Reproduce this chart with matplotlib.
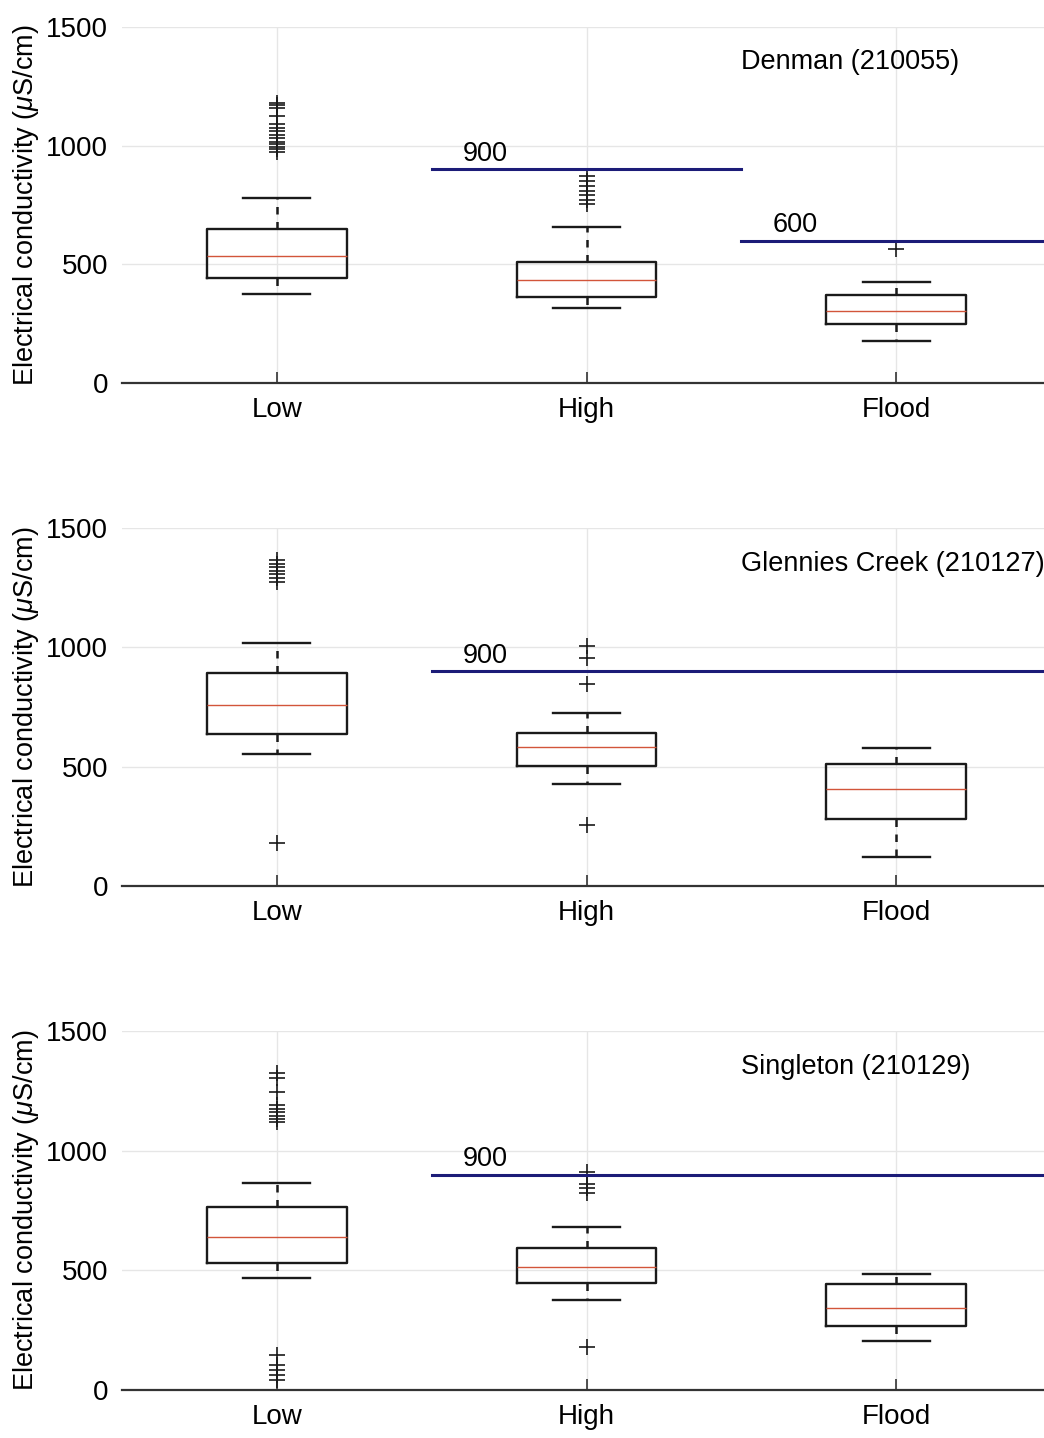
import matplotlib.pyplot as plt

plt.rcParams['font.family'] = ['Liberation Sans', 'DejaVu Sans']
plt.rcParams['mathtext.fontset'] = 'custom'
plt.rcParams['mathtext.it'] = 'Liberation Sans:italic'

# Flow classes
classes = ['Low', 'High', 'Flood']

# Station names
stations = ['Denman (210055)', 'Glennies Creek (210127)', 'Singleton (210129)']

# Box statistics (uS/cm): q1, median, q3, lower / upper whisker
q1 = [[442, 362, 249], [637, 503, 281], [531, 447, 267]]
med = [[535, 434, 303], [758, 582, 406], [639, 514, 343]]
q3 = [[649, 510, 371], [892, 641, 511], [765, 593, 443]]
whislo = [[375, 316, 177], [553, 427, 122], [468, 376, 205]]
whishi = [[780, 657, 426], [1018, 725, 578], [865, 681, 485]]

# Outliers
fliers = [
    [[975, 985, 995, 1005, 1015, 1030, 1045, 1060, 1075, 1090, 1125, 1160, 1172, 1180],
     [755, 770, 790, 810, 830, 850, 870],
     [565]],
    [[180, 1275, 1290, 1305, 1320, 1335, 1350, 1365],
     [256, 846, 955, 1006],
     []],
    [[42, 63, 84, 104, 146, 1120, 1130, 1145, 1160, 1175, 1190, 1245, 1305, 1323],
     [180, 823, 844, 861, 911],
     []],
]

# Guideline thresholds: (value, start class edge, end class edge)
thresholds = [
    [(900, 1.5, 2.5), (600, 2.5, 3.5)],
    [(900, 1.5, 3.5)],
    [(900, 1.5, 3.5)],
]

fig = plt.figure(figsize=(10.44, 14.38), dpi=100)

# axes rectangles in figure fractions [left, bottom, width, height]
rects = [[0.1169, 0.7337, 0.8898, 0.2476],
         [0.1169, 0.3839, 0.8898, 0.2490],
         [0.1169, 0.0334, 0.8898, 0.2497]]

for p in range(3):
    ax = fig.add_axes(rects[p])
    stats = []
    for i, c in enumerate(classes):
        stats.append({
            'label': c,
            'q1': q1[p][i], 'med': med[p][i], 'q3': q3[p][i],
            'whislo': whislo[p][i], 'whishi': whishi[p][i],
            'fliers': fliers[p][i],
        })
    ax.bxp(stats, positions=[1, 2, 3], widths=0.45, capwidths=0.216,
           boxprops=dict(color='#1a1a1a', linewidth=1.7),
           whiskerprops=dict(color='#1a1a1a', linewidth=1.8, linestyle=(0, (3, 3))),
           capprops=dict(color='#1a1a1a', linewidth=1.7),
           medianprops=dict(color='#d2553a', linewidth=1.0),
           flierprops=dict(marker='+', markersize=12, markeredgecolor='#1a1a1a',
                           markeredgewidth=1.2),
           zorder=3)

    for val, x0, x1 in thresholds[p]:
        ax.plot([x0, x1], [val, val], color='#1c1c78', linewidth=2.2, zorder=4)
        ax.text(x0 + 0.1, val + 65, str(val), fontsize=19.5, va='center', ha='left')

    ax.text(2.5, 1350, stations[p], fontsize=19.5, va='center', ha='left')

    ax.set_xlim(0.5, 3.5)
    ax.set_ylim(0, 1500)
    ax.set_yticks([0, 500, 1000, 1500])
    ax.set_xticks([1, 2, 3])
    ax.set_xticklabels(classes)
    ax.grid(True, color='#e6e6e6', linewidth=1.0, zorder=0)
    ax.set_axisbelow(True)
    for s in ['top', 'right', 'left']:
        ax.spines[s].set_visible(False)
    ax.spines['bottom'].set_color('#333333')
    ax.spines['bottom'].set_linewidth(1.6)
    ax.tick_params(axis='x', direction='in', length=8, width=1.2, color='#333333',
                   labelsize=20, pad=10)
    ax.tick_params(axis='y', length=0, labelsize=20, pad=10)
    ax.set_ylabel(r'Electrical conductivity ($\mu$S/cm)', fontsize=19.5, labelpad=4)

fig.savefig('out.png', dpi=100)
